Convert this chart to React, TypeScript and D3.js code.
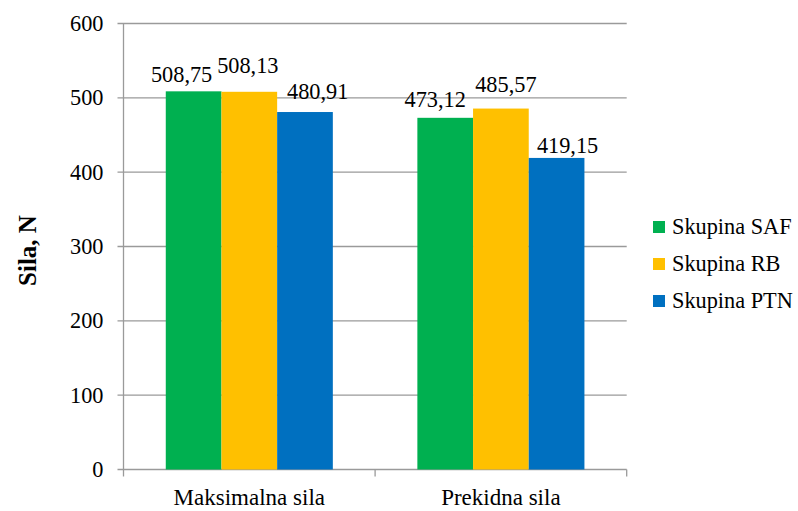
import React from "react";
import * as d3 from "d3";

const categories = ["Maksimalna sila", "Prekidna sila"];
const seriesNames = ["Skupina SAF", "Skupina RB", "Skupina PTN"];
const seriesColors = ["#00B050", "#FFC000", "#0070C0"];
const safValues = [508.75, 473.12];
const rbValues = [508.13, 485.57];
const ptnValues = [480.91, 419.15];
const yTicks = [0, 100, 200, 300, 400, 500, 600];

// label placement nudges (layout only): [series][category] -> [dx, gap above bar]
const labelNudge: [number, number][][] = [
  [
    [-12, 9.3],
    [-10, 11.2],
  ],
  [
    [-1.5, 18.5],
    [5, 17],
  ],
  [
    [12.7, 12.8],
    [11, 5],
  ],
];

const W = 798;
const H = 511;
const left = 123.5;
const right = 626.7;
const top = 23.5;
const bottom = 469.5;
const font = "Liberation Serif, Tinos, Times New Roman, DejaVu Serif, serif";
const ts: React.CSSProperties = { fontFamily: font };
const fs = 22.3;

export default function App() {
  const series = [safValues, rbValues, ptnValues];
  const x0 = d3.scaleBand<string>().domain(categories).range([left, right]).paddingInner(0).paddingOuter(0);
  const groupPad = 0.168;
  const x1 = d3
    .scaleBand<number>()
    .domain([0, 1, 2])
    .range([x0.bandwidth() * groupPad, x0.bandwidth() * (1 - groupPad)]);
  const y = d3.scaleLinear().domain([0, 600]).range([bottom, top]);
  const fmt = (v: number) => v.toFixed(2).replace(".", ",");
  const gridColor = "#9a9a9a";

  const xTickPositions = [left, ...categories.map((c) => (x0(c) as number) + x0.bandwidth())];

  return (
    <div style={{ position: "absolute", left: 0, top: 0 }}>
      <svg width={W} height={H} style={{ display: "block", background: "#fff", fontFamily: font }}>
        {yTicks.map((t) => (
          <g key={t}>
            <line x1={left - 6} x2={right} y1={y(t)} y2={y(t)} stroke={gridColor} strokeWidth={1.3} />
            <text x={left - 20} y={y(t)} dy="0.33em" textAnchor="end" fontSize={fs} fill="#000" style={ts}>
              {t}
            </text>
          </g>
        ))}
        <line x1={left} x2={left} y1={top} y2={bottom} stroke={gridColor} strokeWidth={1.3} />
        {xTickPositions.map((p, i) => (
          <line key={i} x1={p} x2={p} y1={bottom} y2={bottom + 7} stroke={gridColor} strokeWidth={1.3} />
        ))}
        {categories.map((c, ci) => (
          <g key={c} transform={`translate(${x0(c)},0)`}>
            {series.map((s, si) => (
              <g key={si}>
                <rect
                  x={x1(si)}
                  y={y(s[ci])}
                  width={x1.bandwidth()}
                  height={y(0) - y(s[ci])}
                  fill={seriesColors[si]}
                />
                <text
                  x={(x1(si) as number) + x1.bandwidth() / 2 + labelNudge[si][ci][0]}
                  y={y(s[ci]) - labelNudge[si][ci][1]}
                  textAnchor="middle"
                  fontSize={fs}
                  fill="#000"
                  style={ts}
                >
                  {fmt(s[ci])}
                </text>
              </g>
            ))}
            <text x={x0.bandwidth() / 2} y={505} textAnchor="middle" fontSize={23} fill="#000" style={ts}>
              {c}
            </text>
          </g>
        ))}
        <text
          transform={`translate(36,${(top + bottom) / 2 + 4}) rotate(-90)`}
          textAnchor="middle"
          fontSize={25}
          fontWeight="bold"
          fill="#000"
          style={ts}
        >
          Sila, N
        </text>
        {seriesNames.map((n, i) => (
          <g key={n} transform={`translate(653,${227 + i * 37})`}>
            <rect x={0} y={-6} width={12} height={12} fill={seriesColors[i]} />
            <text x={19} y={0} dy="0.33em" fontSize={fs} fill="#000" style={ts}>
              {n}
            </text>
          </g>
        ))}
      </svg>
    </div>
  );
}
